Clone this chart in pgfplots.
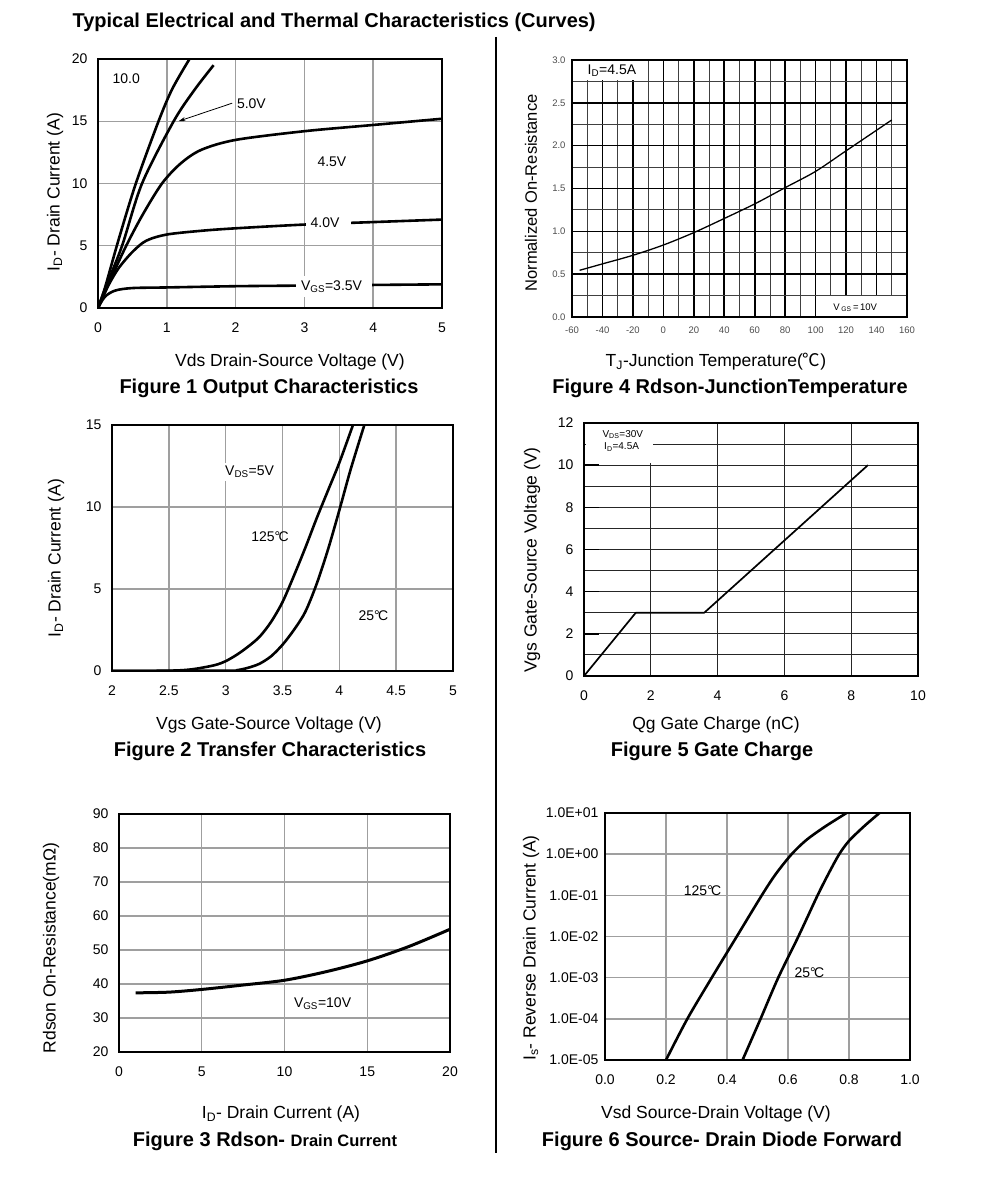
\documentclass[border=0pt]{standalone}
\usepackage{fontspec}
\setmainfont{Liberation Sans}
\newfontfamily\cjk{Noto Sans CJK SC}
\usepackage{pgfplots}
\pgfplotsset{compat=1.18}
\usetikzlibrary{arrows.meta}
\newcommand{\fs}[1]{\fontsize{#1}{#1}\selectfont}
\newcommand{\dC}{°\kern-0.12em C}
\begin{document}
\begin{tikzpicture}
\useasboundingbox (0,0) rectangle (991pt,1188pt);
\pgfplotsset{
  ds/.style={scale only axis, anchor=south west, axis line style={line width=1.8pt},
    major tick length=0pt, minor tick length=0pt, grid=major,
    major grid style={line width=1.4pt, gray!75},
    ticklabel style={font=\fs{14}}, /pgf/number format/assume math mode=true,
    xticklabel style={yshift=-11pt}, yticklabel style={xshift=-7pt},
    every axis plot/.append style={black, line width=2.6pt, line join=round},
  }
}
% ---------- title and divider
\node[anchor=west, font=\bfseries\fs{20}] at (69pt,1166pt) {Typical Electrical and Thermal Characteristics (Curves)};
\draw[line width=2pt] (496pt,1151pt) -- (496pt,35pt);

% ---------- Figure 1
\begin{axis}[ds, at={(98pt,880pt)}, width=344pt, height=249pt,
  xmin=0, xmax=5, ymin=0, ymax=20, xtick={0,...,5}, ytick={0,5,...,20}]
\addplot[smooth] coordinates {(0,0)(0.1,1.6)(0.3,5.5)(0.55,10)(0.88,15)(1.08,17.6)(1.33,20)};
\addplot[smooth] coordinates {(0,0)(0.1,1.5)(0.35,5)(0.64,10)(1.1,15)(1.4,17.5)(1.68,19.5)};
\addplot[smooth] coordinates {(0,0)(0.2,2.5)(0.41,5)(0.65,7.5)(0.93,10)(1.2,11.6)(1.5,12.7)(2,13.5)(3,14.2)(4,14.7)(5,15.2)};
\addplot[smooth] coordinates {(0,0)(0.15,1.8)(0.3,3.2)(0.5,4.5)(0.7,5.4)(1,5.9)(1.5,6.2)(2,6.4)(3,6.7)(4,6.9)(5,7.1)};
\addplot[smooth] coordinates {(0,0)(0.1,0.9)(0.25,1.4)(0.5,1.6)(1,1.65)(2,1.75)(3,1.8)(4,1.85)(5,1.9)};
\fill[white] (axis cs:3.02,6.1) rectangle (axis cs:3.68,7.5);
\node[anchor=west, font=\fs{14}] at (axis cs:3.04,6.85) {4.0V};
\fill[white] (axis cs:2.88,0.9) rectangle (axis cs:3.98,2.6);
\node[anchor=west, font=\fs{14}] at (axis cs:2.9,1.7) {V\textsubscript{GS}=3.5V};
\node[font=\fs{14}] at (axis cs:3.4,11.75) {4.5V};
\node[font=\fs{14}] at (axis cs:0.41,18.4) {10.0};
\node[font=\fs{14}] at (axis cs:2.23,16.4) {5.0V};
\draw[-{Stealth[length=7pt,width=4pt]}, line width=0.8pt] (axis cs:1.95,16.45) -- (axis cs:1.17,15.0);
\end{axis}
\node[font=\fs{17.5}] at (290pt,826pt) {Vds Drain-Source Voltage (V)};
\node[font=\bfseries\fs{20}] at (269pt,800pt) {Figure 1 Output Characteristics};
\node[font=\fs{17.5}, rotate=90] at (55pt,996pt) {I\textsubscript{D}- Drain Current (A)};

% ---------- Figure 4
\begin{axis}[ds, at={(572pt,871pt)}, width=335pt, height=257pt,
  xmin=-60, xmax=160, ymin=0, ymax=3,
  xtick={-60,-40,...,160}, ytick={0,0.5,...,3},
  minor xtick={-50,-30,...,150}, minor ytick={0.25,0.75,...,2.75},
  grid=both, major grid style={line width=1.6pt, black},
  minor grid style={line width=0.9pt, black!75},
  ticklabel style={font=\fs{9.5}, text=black!70},
  xticklabel style={yshift=5pt}, yticklabel style={xshift=4pt},
  yticklabel style={/pgf/number format/fixed, /pgf/number format/fixed zerofill, /pgf/number format/precision=1}]
\addplot[smooth, line width=1.3pt] coordinates {(-55,0.545)(-40,0.62)(-20,0.72)(0,0.84)(20,0.985)(40,1.15)(60,1.32)(80,1.51)(100,1.70)(120,1.94)(150,2.30)};
\fill[white] (axis cs:-59.2,2.765) rectangle (axis cs:-12,2.985);
\node[anchor=west, font=\fs{14}] at (axis cs:-52,2.88) {I\textsubscript{D}=4.5A};
\fill[white] (axis cs:100.6,0.015) rectangle (axis cs:159.2,0.24);
\node[font=\fs{9.5}] at (axis cs:126,0.11) {V\,\textsubscript{GS}\,=\,10V};
\end{axis}
\node[font=\fs{17.5}] at (716pt,826pt) {T\textsubscript{J}-Junction Temperature({\cjk ℃})};
\node[font=\bfseries\fs{20}] at (730pt,800pt) {Figure 4 Rdson-JunctionTemperature};
\node[font=\fs{16.5}, rotate=90] at (531pt,995pt) {Normalized On-Resistance};

% ---------- Figure 2
\begin{axis}[ds, at={(112pt,517pt)}, width=341pt, height=246pt,
  xmin=2, xmax=5, ymin=0, ymax=15, xtick={2,2.5,...,5}, ytick={0,5,10,15}]
\addplot[smooth] coordinates {(2.0,0)(2.5,0.02)(2.7,0.1)(2.9,0.35)(3.0,0.6)(3.1,1.0)(3.2,1.5)(3.3,2.1)(3.4,3.0)(3.5,4.2)(3.6,5.8)(3.7,7.5)(3.8,9.3)(3.9,11.0)(4.0,12.7)(4.12,15)};
\addplot[smooth] coordinates {(2.0,0)(3.0,0.02)(3.1,0.05)(3.2,0.2)(3.3,0.45)(3.4,0.9)(3.5,1.6)(3.6,2.5)(3.7,3.6)(3.8,5.3)(3.9,7.4)(4.0,9.8)(4.1,12.3)(4.22,15)};
\node[fill=white, inner sep=3pt, font=\fs{14}] at (axis cs:3.21,12.15) {V\textsubscript{DS}=5V};
\node[font=\fs{14}] at (axis cs:3.39,8.2) {125\dC};
\node[font=\fs{14}] at (axis cs:4.3,3.4) {25\dC};
\end{axis}
\node[font=\fs{17.5}] at (269pt,463pt) {Vgs Gate-Source Voltage (V)};
\node[font=\bfseries\fs{20}] at (270pt,437pt) {Figure 2 Transfer Characteristics};
\node[font=\fs{17.5}, rotate=90] at (56pt,630pt) {I\textsubscript{D}- Drain Current (A)};

% ---------- Figure 5
\begin{axis}[ds, at={(584pt,512pt)}, width=334pt, height=253pt,
  xmin=0, xmax=10, ymin=0, ymax=12, xtick={0,2,...,10}, ytick={0,2,...,12},
  minor ytick={1,3,...,11}, grid=both,
  major grid style={line width=0.9pt, black!85}, minor grid style={line width=0.9pt, black!85},
  major tick length=15pt, tick align=inside, ytick pos=left,
  xtick style={draw=none}, ytick style={draw=black, line width=1.6pt}]
\addplot[line width=1.7pt] coordinates {(0,0)(1.55,3)(3.6,3)(8.5,10)};
\fill[white] (axis cs:0.06,10.12) rectangle (axis cs:2.07,11.93);
\node[anchor=west, font=\fs{10}] at (axis cs:0.45,11.45) {V\textsubscript{DS}=30V};
\node[anchor=west, font=\fs{10}] at (axis cs:0.5,10.85) {I\textsubscript{D}=4.5A};
\end{axis}
\node[font=\fs{17.5}] at (716pt,463pt) {Qg Gate Charge (nC)};
\node[font=\bfseries\fs{20}] at (712pt,437pt) {Figure 5 Gate Charge};
\node[font=\fs{17.5}, rotate=90] at (532pt,628pt) {Vgs Gate-Source Voltage (V)};

% ---------- Figure 3
\begin{axis}[ds, at={(119pt,136pt)}, width=331pt, height=238pt,
  xmin=0, xmax=20, ymin=20, ymax=90, xtick={0,5,...,20}, ytick={20,30,...,90}]
\addplot[smooth, line width=3pt] coordinates {(1,37.4)(3,37.6)(5,38.4)(7.5,39.7)(10,41.1)(12.5,43.6)(15,46.8)(17.5,51)(20,56.1)};
\node[fill=white, inner sep=3pt, font=\fs{14}] at (axis cs:12.3,34.1) {V\textsubscript{GS}=10V};
\end{axis}
\node[font=\fs{17.5}] at (281pt,74pt) {I\textsubscript{D}- Drain Current (A)};
\node[font=\bfseries\fs{20}] at (265pt,47pt) {Figure 3 Rdson- {\fs{16.5}Drain Current}};
\node[font=\fs{17.5}, rotate=90] at (51pt,240pt) {Rdson On-Resistance(mΩ)};

% ---------- Figure 6
\begin{axis}[ds, ymode=log, at={(605pt,128pt)}, width=305pt, height=247pt,
  xmin=0, xmax=1, ymin=1e-5, ymax=10, yticklabel style={xshift=4pt},
  xtick={0,0.2,0.4,0.6,0.8,1}, xticklabels={0.0,0.2,0.4,0.6,0.8,1.0},
  ytick={1e-5,1e-4,1e-3,1e-2,1e-1,1,10},
  yticklabels={1.0E-05,1.0E-04,1.0E-03,1.0E-02,1.0E-01,1.0E+00,1.0E+01}]
\addplot[smooth] coordinates {(0.2,1e-5)(0.27,1e-4)(0.35,1e-3)(0.432,1e-2)(0.514,1e-1)(0.56,0.33)(0.612,1)(0.66,2.2)(0.72,4.6)(0.792,10)};
\addplot[smooth] coordinates {(0.451,1e-5)(0.51,1e-4)(0.568,1e-3)(0.634,1e-2)(0.697,1e-1)(0.735,0.36)(0.768,1)(0.80,2.1)(0.85,4.8)(0.90,10)};
\node[font=\fs{14}] at (axis cs:0.32,0.13) {125\dC};
\node[font=\fs{14}] at (axis cs:0.67,1.3e-3) {25\dC};
\end{axis}
\node[font=\fs{17.5}] at (716pt,74pt) {Vsd Source-Drain Voltage (V)};
\node[font=\bfseries\fs{20}] at (722pt,47pt) {Figure 6 Source- Drain Diode Forward};
\node[font=\fs{17.5}, rotate=90] at (531pt,240pt) {I\textsubscript{s}- Reverse Drain Current (A)};
\end{tikzpicture}
\end{document}
